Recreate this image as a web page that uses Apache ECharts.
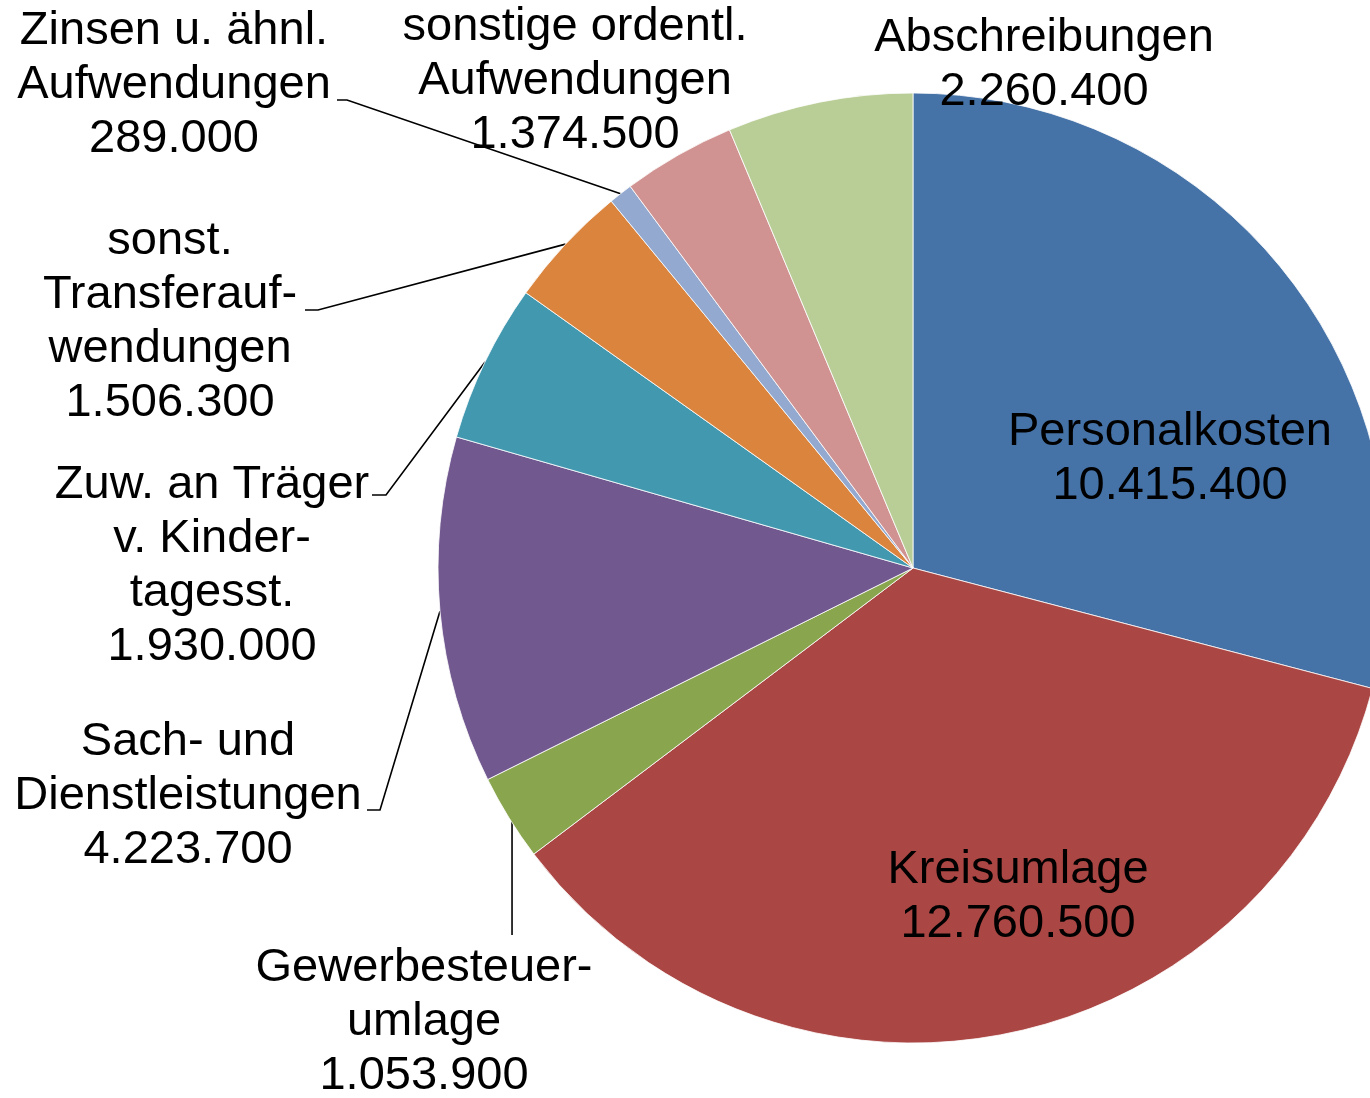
<!DOCTYPE html>
<html lang="de">
<head>
<meta charset="UTF-8">
<title>Aufwendungen</title>
<script src="https://cdn.jsdelivr.net/npm/echarts@6/dist/echarts.min.js"></script>
</head>
<body style="margin:0;background:#fff">
<div id="main" style="width:1370px;height:1098px;"></div>
<script>
    var names = ['Personalkosten', 'Kreisumlage', 'Gewerbesteuer-\numlage', 'Sach- und\nDienstleistungen',
        'Zuw. an Träger\nv. Kinder-\ntagesst.', 'sonst.\nTransferauf-\nwendungen', 'Zinsen u. ähnl.\nAufwendungen',
        'sonstige ordentl.\nAufwendungen', 'Abschreibungen'];
    var values = [10415400, 12760500, 1053900, 4223700, 1930000, 1506300, 289000, 1374500, 2260400];
    var colors = ['#4572A7', '#AA4643', '#89A54E', '#71588F', '#4198AF', '#DB843D', '#93A9CF', '#D19392', '#B9CD96'];

    // label block centres and outer leader line points (first point comes from the pie)
    var labelPos = [[1170, 459], [1018, 897], [424, 1022], [188, 796], [212, 566], [170, 322], [174, 85], [575, 81], [1044, 65]];
    var linePts = [null, null, 'down', [[380, 810], [367, 810]], [[386, 495], [372, 495]],
        [[318, 310], [305, 310]], [[347, 100], [337, 100]], null, null];

    function fmt(v) {
        return String(v).replace(/\B(?=(\d{3})+(?!\d))/g, '.');
    }

    var data = [];
    for (let i = 0; i < names.length; i++) {
        data.push({
            name: names[i],
            value: values[i],
            itemStyle: {color: colors[i]},
            labelLine: {show: linePts[i] != null}
        });
    }

    var myChart = echarts.init(document.getElementById('main'));
    var option = {
        animation: false,
        series: [{
            type: 'pie',
            center: [913, 568],
            radius: 475,
            startAngle: 90,
            clockwise: true,
            avoidLabelOverlap: false,
            silent: true,
            itemStyle: {borderColor: 'rgba(255,255,255,0.8)', borderWidth: 1},
            label: {
                show: true,
                position: 'outside',
                color: '#000',
                fontFamily: '"Liberation Sans", Arial, sans-serif',
                fontSize: 47,
                lineHeight: 54,
                align: 'center',
                formatter: function (p) {
                    return p.name + '\n' + fmt(p.value);
                }
            },
            labelLine: {
                lineStyle: {color: '#000', width: 1.6}
            },
            labelLayout: function (p) {
                var i = p.dataIndex;
                var res = {x: labelPos[i][0], y: labelPos[i][1], align: 'center', verticalAlign: 'middle'};
                if (linePts[i] && p.labelLinePoints) {
                    var p0 = p.labelLinePoints[0];
                    if (linePts[i] === 'down') {
                        // straight vertical drop to the label
                        res.labelLinePoints = [[p0[0] + 3, p0[1] + 2], [p0[0] + 3, 935]];
                    } else {
                        res.labelLinePoints = [p0].concat(linePts[i]);
                    }
                }
                return res;
            },
            data: data
        }]
    };
    myChart.setOption(option);
</script>
</body>
</html>
